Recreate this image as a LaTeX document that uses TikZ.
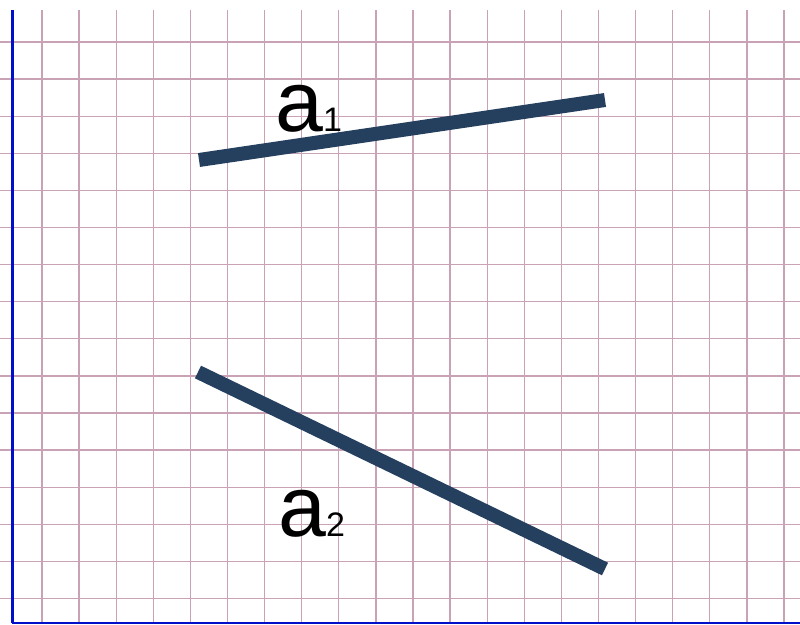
\documentclass[tikz,border=0pt]{standalone}
\usepackage{fontspec}
\setmainfont{Liberation Sans}
\definecolor{gridc}{HTML}{C9A2B6}
\definecolor{axisblue}{HTML}{0010C8}
\definecolor{segc}{HTML}{253F5F}
\begin{document}
\begin{tikzpicture}[x=1pt,y=-1pt,
  gridline/.style={draw=gridc, line width=1.3pt},
  axisline/.style={draw=axisblue, line width=3pt},
  baseaxis/.style={draw=axisblue, line width=2pt},
  seg/.style={draw=segc, line width=14pt},
  lbl/.style={inner sep=0pt, anchor=base west, font=\fontsize{86}{86}\selectfont},
  sub/.style={font=\fontsize{34}{34}\selectfont}]
\useasboundingbox (0,0) rectangle (800,624);
\fill[white] (0,0) rectangle (800,624);
\foreach \k in {0,...,20} \draw[gridline] ({42+37.1*\k},10) -- ({42+37.1*\k},624);
\foreach \k in {0,...,15} \draw[gridline] (0,{42+37.1*\k}) -- (800,{42+37.1*\k});
\coordinate (vtop) at (12,10);
\coordinate (origin) at (12,623);
\coordinate (hend) at (800,623);
\draw[axisline] (vtop) -- (origin);
\draw[baseaxis] (origin) -- (hend);
\coordinate (a1s) at (199,160);
\coordinate (a1e) at (605,100);
\coordinate (a2s) at (198,372);
\coordinate (a2e) at (605,569);
\draw[seg] (a1s) -- (a1e);
\draw[seg] (a2s) -- (a2e);
\node[lbl] (l1) at (275,131) {a{\fontsize{34}{34}\selectfont 1}};
\node[lbl] (l2) at (278,536) {a{\fontsize{34}{34}\selectfont 2}};
\end{tikzpicture}
\end{document}
